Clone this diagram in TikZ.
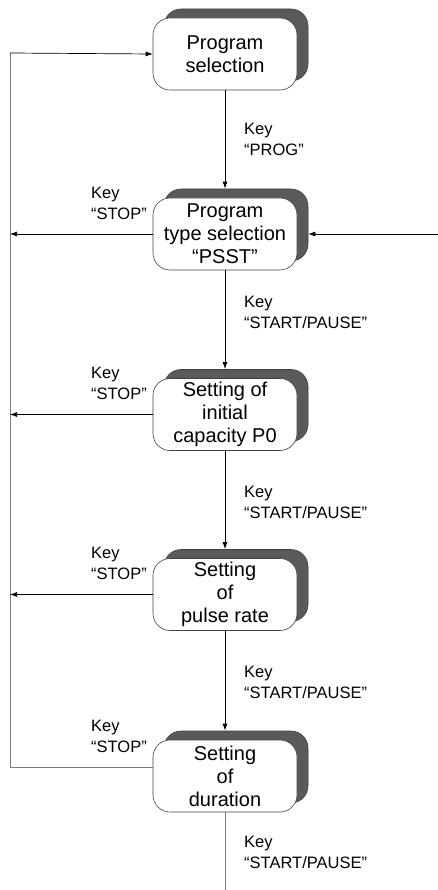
\documentclass[tikz,border=0pt]{standalone}
\usepackage{fontspec}
\setmainfont{Liberation Sans}
\usetikzlibrary{arrows.meta,shadows}
\definecolor{shade}{HTML}{5A5A5A}
\definecolor{rail}{HTML}{7A7A7A}
\begin{document}
\begin{tikzpicture}[x=1pt, y=-1pt,
    state/.style={rectangle, rounded corners=17pt, draw=black!75, line width=0.6pt, fill=white,
        minimum width=144pt, minimum height=72pt, inner sep=0pt, align=center,
        font=\fontsize{20}{23}\selectfont,
        copy shadow={shadow xshift=11pt, shadow yshift=9pt, fill=shade, draw=black!75}},
    keylabel/.style={align=left, inner sep=0pt, font=\fontsize{16.5}{21}\selectfont},
    flow/.style={line width=0.9pt, -{Latex[length=7pt,width=5pt]}},
    stop/.style={line width=0.7pt, -{Latex[length=7pt,width=5pt]}},
    back/.style={rail, line width=0.8pt}]
    \useasboundingbox (0,0) rectangle (438,890);
    \foreach \i/\y/\txt in {1/54/{Program\\selection}, 2/234/{Program\\type selection\\“PSST”},
        3/414.5/{Setting of\\initial\\capacity P0}, 4/594.5/{Setting\\of\\pulse rate}, 5/776/{Setting\\of\\duration}} {
        \node[state] (s\i) at (225,\y) {\txt};
    }
    \coordinate (top) at (10,53);
    \coordinate (bot) at (10,767);
    \coordinate (entry) at (438,234);
    \coordinate (exit) at (225,890);
    \foreach \a/\b in {1/2,2/3,3/4,4/5} {
        \draw[flow] (s\a.south) -- ([yshift=9pt]s\b.north);
    }
    \draw[back] (s5.south) -- (exit);
    \draw[back] ([yshift=9pt]s5.west) -- (bot) -- (top);
    \draw[stop] (top) -- (s1.west);
    \foreach \i in {2,3,4} {
        \draw[stop] (s\i.west) -- (s\i.west -| top);
    }
    \draw[stop] (entry) -- ([xshift=11pt]s2.east);
    \node[keylabel, anchor=west] (kprog) at (244,139) {Key\\“PROG”};
    \foreach \y [count=\k] in {312,502,682,852} {
        \node[keylabel, anchor=west] (kgo\k) at (244,\y) {Key\\“START/PAUSE”};
    }
    \foreach \y [count=\k] in {203,383.5,563.5,736} {
        \node[keylabel, anchor=east] (kstop\k) at (147,\y) {Key\\“STOP”};
    }
\end{tikzpicture}
\end{document}
